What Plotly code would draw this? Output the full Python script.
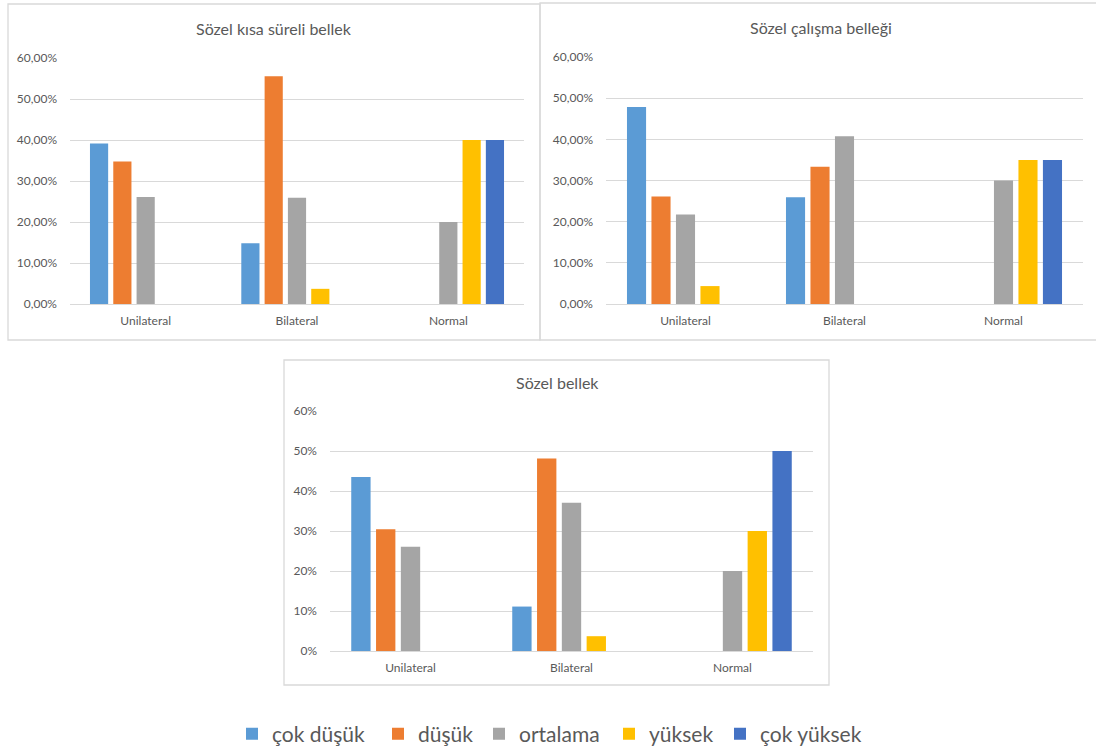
import plotly.graph_objects as go

W, H = 1096, 751

categories = ["Unilateral", "Bilateral", "Normal"]
levels = ["çok düşük", "düşük", "ortalama", "yüksek", "çok yüksek"]
colors = ["#5B9BD5", "#ED7D31", "#A5A5A5", "#FFC000", "#4472C4"]

# Share of each group per level (rows follow `levels`, columns follow `categories`)
kisa_sureli = [
    [0.3913, 0.1481, 0.0],
    [0.3478, 0.5556, 0.0],
    [0.2609, 0.2593, 0.20],
    [0.0, 0.0370, 0.40],
    [0.0, 0.0, 0.40],
]
calisma = [
    [0.4783, 0.2593, 0.0],
    [0.2609, 0.3333, 0.0],
    [0.2174, 0.4074, 0.30],
    [0.0435, 0.0, 0.35],
    [0.0, 0.0, 0.35],
]
sozel = [
    [0.4348, 0.1111, 0.0],
    [0.3043, 0.4815, 0.0],
    [0.2609, 0.3704, 0.20],
    [0.0, 0.0370, 0.30],
    [0.0, 0.0, 0.50],
]

tick_vals = [0, 0.1, 0.2, 0.3, 0.4, 0.5, 0.6]
tick_text_dec = ["0,00%", "10,00%", "20,00%", "30,00%", "40,00%", "50,00%", "60,00%"]
tick_text_int = ["0%", "10%", "20%", "30%", "40%", "50%", "60%"]

titles = ["Sözel kısa süreli bellek", "Sözel çalışma belleği", "Sözel bellek"]

FONT = "Lato"
TXT = "#595959"
GRID = "#D9D9D9"


def px_x(x):
    return x / W


def px_y(y):
    return 1 - y / H


# panel geometry in pixels: plot area (x0, x1, ytop, ybottom), frame, title centre
panels = [
    dict(data=kisa_sureli, ticks=tick_text_dec, plot=(70, 524, 58, 304),
         frame=(8, 540, 4, 340), title=(274, 28)),
    dict(data=calisma, ticks=tick_text_dec, plot=(606, 1083, 57, 304),
         frame=(540, 1102, 3, 340), title=(821, 27)),
    dict(data=sozel, ticks=tick_text_int, plot=(330, 813, 411, 651),
         frame=(284, 829, 360, 685), title=(557, 382)),
]

# left edge (px) of each legend entry's swatch along the bottom row
legend_left = [246, 392, 493, 623, 734]
LEGEND_Y = 734

fig = go.Figure()
shapes = []
annotations = []

for i, p in enumerate(panels):
    n = "" if i == 0 else str(i + 1)
    xa, ya = "x" + n, "y" + n
    for j, lvl in enumerate(levels):
        fig.add_trace(go.Bar(
            x=categories, y=p["data"][j], name=lvl,
            marker=dict(color=colors[j], line=dict(width=0)),
            xaxis=xa, yaxis=ya, showlegend=(i == 0), legendgroup=lvl,
            legend="legend" if j == 0 else "legend" + str(j + 1),
            offsetgroup=str(j),
        ))
    x0, x1, yt, yb = p["plot"]
    fig.layout["xaxis" + n] = dict(
        domain=[px_x(x0), px_x(x1)], anchor=ya, automargin=False,
        showgrid=False, showline=True, linecolor=GRID, linewidth=1,
        ticks="", tickfont=dict(family=FONT, size=12, color=TXT),
        ticklabelstandoff=6, fixedrange=True,
    )
    fig.layout["yaxis" + n] = dict(
        domain=[px_y(yb), px_y(yt)], anchor=xa, range=[0, 0.6], automargin=False,
        tickvals=tick_vals, ticktext=p["ticks"],
        showgrid=True, gridcolor=GRID, gridwidth=1, zeroline=False,
        showline=False, ticks="", ticklabelstandoff=12,
        tickfont=dict(family=FONT, size=12, color=TXT), fixedrange=True,
    )
    fx0, fx1, fy0, fy1 = p["frame"]
    shapes.append(dict(type="rect", xref="paper", yref="paper",
                       x0=px_x(fx0), x1=px_x(fx1), y0=px_y(fy1), y1=px_y(fy0),
                       line=dict(color=GRID, width=1.3), fillcolor="rgba(0,0,0,0)",
                       layer="below"))
    tx, ty = p["title"]
    annotations.append(dict(text=titles[i], xref="paper", yref="paper",
                            x=px_x(tx), y=px_y(ty), xanchor="center", yanchor="middle",
                            showarrow=False,
                            font=dict(family=FONT, size=16, color=TXT)))

fig.update_layout(
    width=W, height=H,
    margin=dict(l=0, r=0, t=0, b=0, autoexpand=False),
    paper_bgcolor="white", plot_bgcolor="white",
    barmode="group", bargap=0.23, bargroupgap=0.22,
    shapes=shapes, annotations=annotations,
)

for j in range(len(levels)):
    key = "legend" if j == 0 else "legend" + str(j + 1)
    fig.layout[key] = dict(
        orientation="h", xref="container", yref="container",
        x=(legend_left[j] - 14) / W, xanchor="left",
        y=1 - LEGEND_Y / H, yanchor="middle",
        font=dict(family=FONT, size=21, color=TXT), itemwidth=30,
        bgcolor="rgba(0,0,0,0)",
    )

fig.write_html("out.html")
